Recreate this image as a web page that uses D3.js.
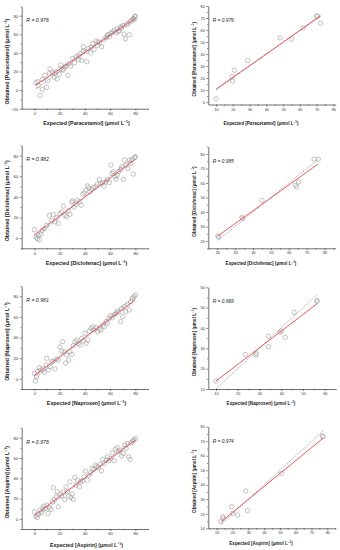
<!DOCTYPE html>
<html><head><meta charset="utf-8">
<script src="https://cdn.jsdelivr.net/npm/d3@7"></script>
<style>
html,body{margin:0;padding:0;background:#fff;}
svg{display:block;font-family:"Liberation Sans",Arial,sans-serif;}
</style></head><body>
<svg id="chart" width="340" height="550"></svg>
<script>
// ---------- DATA ----------
const drugNames = ["Paracetamol","Diclofenac","Naproxen","Aspirin"];
const rCalib = ["0.976","0.982","0.981","0.976"];
const rValid = ["0.979","0.985","0.969","0.974"];
const fitCalibSlope = [0.91, 0.92, 0.92, 0.93];
const fitCalibIntercept = [4.3, 3.0, 3.0, 3.3];
const fitValidSlope = [0.976, 0.885, 0.819, 0.892];
const fitValidIntercept = [1.0, 5.5, 5.7, 3.1];

const paraCalX = [1.3,2.6,4.5,6.3,6.3,8.4,9.8,11.9,12.4,14.3,15.6,17,18,19.8,20.3,21,23,24.3,26.4,27.7,28.8,30.4,31.7,33,34.9,36.2,37.5,38.8,41,41.5,42.8,44.6,46.2,47.3,48.8,49.9,51.5,53.3,55.2,56.8,57.8,59.4,60.5,62,63.1,64.7,65.7,67.3,68.4,70,71,72.1,73.1,74.2,75.2,76.3,77.4,78.4,79.5,80,3,10.5,16,22,25,35,39,45,50.5,58.5,66.5,69,79];
const paraCalY = [7.9,9,-5.7,0.7,11.5,16,3,18,23,18.6,14,20,12,17,23,27,21.5,25,16,28.7,25.8,34,29.4,35.8,33,39.4,32,46.6,41,30.5,44.8,40,50,43.7,53,48.4,51,46.6,54.5,56.6,58.8,57.3,61,62.4,64.5,61.6,66,63.8,68,69.5,60.2,55.2,70.3,71.7,59.5,73.8,75.3,77,78.9,79.6,5,10,18,22,26,37,42,46,52,60,63,66.5,76];
const paraValX = [10,19.7,19.9,20.9,28.9,48.2,55.1,62.1,70,70.6,72.4];
const paraValY = [2.8,21.3,17.5,26.6,34.6,53.5,52.4,61.8,71.5,71.7,65.6];

const dicloCalX = [0,1.3,2.4,3.2,4,5,6.3,7.7,9.8,11.9,13.7,15,16.4,17.7,19,20.3,21.6,23,24.3,25.6,26.9,28.2,29.6,30.4,31.4,33,34,35.6,37,38.3,39.6,40.9,42,43,44,45.4,46.7,48.3,49.9,51.5,52.5,54.1,55.2,56.8,57.8,59.4,60.5,61.5,62.6,63.9,64.7,65.7,66.8,68.4,69.4,70.5,71.3,72.6,73.9,75.2,76.3,77.4,78.4,79.5,80];
const dicloCalY = [8.1,1,-0.7,2.6,-1.6,3.6,7.5,9,12.4,22,17.2,23,15.6,19.8,14,23.7,25.4,31,22,20.5,26.3,23,35,36,30.2,32.8,36.7,35,31.9,42.6,43.9,46.5,50.7,49,44.9,47.2,49.1,49.8,52.4,57,53,53.7,50.4,54.6,57,53.7,70.9,62.8,64.4,59.5,57,61,64.4,66.7,69.3,57,75.8,70.9,67.6,75.8,72.5,76.4,62.1,78.4,79];
const dicloValX = [20.4,20.7,33.8,34.2,45,63.6,64.5,65.5,74.2,76.5];
const dicloValY = [23.6,22.7,36.4,35.5,48,58.4,57.3,60.7,76.4,76.4];

const naproCalX = [0,0.8,1.8,2.6,4,5,6.6,7.9,9.2,9.8,11.1,12.4,13.7,15,16.4,17.7,19,20.3,21.6,22.4,23.8,24.8,25.6,27.2,28.2,29.6,30.9,32.2,33.5,34.9,36.2,37.5,38.8,40.1,41,42.2,43.6,44.9,46.2,47.3,48.8,50.2,51.5,52.8,54.1,55.4,56.8,57.8,59.1,60.5,61.8,63.1,64.7,65.7,66.8,68.4,69.2,70,71.3,72.3,73.7,75.2,76.3,77.6,78.9,80];
const naproCalY = [5.2,-2.3,1.9,6.8,10.7,8.4,9.4,6.2,13.3,19.8,8.4,11.7,16.5,17.2,9.4,19.1,18.1,30.8,26.9,36,26.2,15.2,23,18.1,26.2,23.6,32.1,36,37.6,34.3,32.7,39.2,36.6,44,34.3,37.6,46.3,48.9,50.5,47.3,49.6,45.7,48.3,47.3,52.1,50.5,55.4,53.8,58.6,61.2,59.3,61.9,63.5,65.7,64.5,55.4,68.3,60.2,70,65.1,72.2,66.7,74.8,78,79.7,81.3];
const naproValX = [10,23.5,28.3,28.6,34.2,34.2,39.4,40.1,41.8,45.9,56.3,56.5];
const naproValY = [13.9,27,26.7,27.4,35.9,30.8,37.9,38.5,35.4,47.7,53,53.6];

const aspCalX = [0,1.3,2.4,3.2,4.5,5.5,6.6,7.7,8.7,9.8,10.8,11.9,13.2,14.3,15,15.8,17.2,18.2,19,20.3,21.6,23,24,25.1,26.1,27.2,28.2,29,30.1,30.9,32,33,34.3,35.6,36.7,38,39.3,40.4,42,43.3,44.6,45.7,47,48.3,49.4,50.7,52,53.1,54.1,55.4,56.8,57.8,59.1,60.5,61.8,63.1,64.2,65.5,66.5,67.9,69.2,70.5,71.6,72.6,73.7,74.7,75.8,76.8,77.9,78.9,80];
const aspCalY = [6.9,2.6,1.3,4.6,8.6,5.9,10.2,12.5,9.9,13.5,5.3,11.2,9.2,16.8,30.9,19.1,21.7,26.7,11.9,24.4,22.4,26.7,19.1,31.6,26.7,22.4,36.5,21.1,24.4,19.1,40.8,33.3,38.2,31.6,36.5,37.5,41.5,47.1,38.2,43.1,45.4,49.7,48.7,53,51.4,50.7,54,47.4,58.6,54.6,57.9,61.2,57.3,59.6,65.2,57.3,68.5,70.4,66.2,67.8,61.9,64.5,72.8,69.5,74.4,61.2,58.6,75.1,77,77.7,79.3];
const aspValX = [12.7,13.8,14.2,19.5,20.1,23.3,28.3,29.4,51.1,76.8,77.3];
const aspValY = [14.6,18,16.9,24.9,20.3,19.2,35.7,22.2,47.9,73.6,73.1];

const leftXTicks = [0,20,40,60,80];
const leftYTicksRow1 = [-20,0,20,40,60,80];
const leftYTicks = [0,20,40,60,80];
const rightXTicks1 = [10,20,30,40,50,60,70,80];
const rightYTicks1 = [0,10,20,30,40,50,60,70,80];
const rightXTicks2 = [20,30,40,50,60,70,80];
const rightYTicks2 = [20,30,40,50,60,70,80];
const rightXTicks3 = [10,20,30,40,50,60];
const rightYTicks3 = [10,20,30,40,50,60];
const rightXTicks4 = [10,20,30,40,50,60,70,80];
const rightYTicks4 = [10,20,30,40,50,60,70,80];

// ---------- LAYOUT ----------
const calX = [paraCalX,dicloCalX,naproCalX,aspCalX];
const calY = [paraCalY,dicloCalY,naproCalY,aspCalY];
const valX = [paraValX,dicloValX,naproValX,aspValX];
const valY = [paraValY,dicloValY,naproValY,aspValY];

const leftGeom = [
  {xd:[-10,90], yd:[-20,90], yr:[108.7,6.4], yt:leftYTicksRow1, xl:124.5},
  {xd:[-10,90], yd:[-10,90], yr:[248.3,145.4], yt:leftYTicks, xl:264.5},
  {xd:[-10,90], yd:[-10,90], yr:[389,286], yt:leftYTicks, xl:404.5},
  {xd:[-10,90], yd:[-10,90], yr:[529,427.6], yt:leftYTicks, xl:547}
];
const rightGeom = [
  {xd:[5.4,81.4], yd:[-2,80], yr:[104.5,6], xt:rightXTicks1, yt:rightYTicks1, xl:124.5},
  {xd:[15,86.2], yd:[15,85], yr:[248.3,146.7], xt:rightXTicks2, yt:rightYTicks2, xl:264.5},
  {xd:[6.5,65], yd:[10,60], yr:[389,287.3], xt:rightXTicks3, yt:rightYTicks3, xl:404.5},
  {xd:[4.7,85.3], yd:[10,80], yr:[528.3,426.7], xt:rightXTicks4, yt:rightYTicks4, xl:545}
];

const svg = d3.select("#chart");
const axisColor = "#333";

function drawPanel(opts){
  const g = svg.append("g");
  const x = d3.scaleLinear().domain(opts.xd).range(opts.xr);
  const y = d3.scaleLinear().domain(opts.yd).range(opts.yr);

  // minor ticks
  const xStep = opts.xt[1]-opts.xt[0], yStep = opts.yt[1]-opts.yt[0];
  const xMinor = d3.range(opts.xt[0]-xStep/2, opts.xd[1]+0.001, xStep/2).filter(v=>v>=opts.xd[0]&&v<=opts.xd[1]&&!opts.xt.includes(v));
  const yMinor = d3.range(opts.yt[0]-yStep/2, opts.yd[1]+0.001, yStep/2).filter(v=>v>=opts.yd[0]&&v<=opts.yd[1]&&!opts.yt.includes(v));

  const xa = g.append("g").attr("transform",`translate(0,${opts.yr[0]})`)
    .call(d3.axisBottom(x).tickValues(opts.xt).tickSize(2).tickPadding(1.5).tickSizeOuter(0));
  g.append("g").attr("transform",`translate(0,${opts.yr[0]})`)
    .call(d3.axisBottom(x).tickValues(xMinor).tickSize(1.2).tickFormat("").tickSizeOuter(0))
    .select(".domain").remove();
  const ya = g.append("g").attr("transform",`translate(${opts.xr[0]},0)`)
    .call(d3.axisLeft(y).tickValues(opts.yt).tickSize(2).tickPadding(1.5).tickSizeOuter(0));
  g.append("g").attr("transform",`translate(${opts.xr[0]},0)`)
    .call(d3.axisLeft(y).tickValues(yMinor).tickSize(1.2).tickFormat("").tickSizeOuter(0))
    .select(".domain").remove();
  g.selectAll(".domain").attr("stroke",axisColor).attr("stroke-width",0.7);
  g.selectAll(".tick line").attr("stroke",axisColor).attr("stroke-width",0.6);
  g.selectAll(".tick text").attr("fill","#333").attr("font-size",opts.tickFont).attr("font-family","Liberation Sans, Arial, sans-serif");

  // y = x dashed line
  const xs = opts.px, ys = opts.py;
  const x0 = d3.min(xs), x1 = d3.max(xs);
  g.append("line").attr("x1",x(x0)).attr("y1",y(x0)).attr("x2",x(x1)).attr("y2",y(x1))
    .attr("stroke","#777").attr("stroke-width",0.6).attr("stroke-dasharray","1.6,1.2");

  // points
  g.append("g").selectAll("circle").data(d3.range(xs.length)).join("circle")
    .attr("cx",i=>x(xs[i])).attr("cy",i=>y(ys[i])).attr("r",2.2)
    .attr("fill","none").attr("stroke","#9a9a9a").attr("stroke-width",0.6);

  // fit line
  g.append("line").attr("x1",x(x0)).attr("y1",y(opts.b + opts.m*x0))
    .attr("x2",x(x1)).attr("y2",y(opts.b + opts.m*x1))
    .attr("stroke","#e8474c").attr("stroke-width",0.9);

  // R text
  const rt = g.append("text").attr("x",opts.xr[0]+4.5).attr("y",opts.yr[1]+ (opts.rDy))
    .attr("font-size",opts.rFont).attr("font-style","italic").attr("fill","#222");
  rt.text("R = " + opts.r);

  // x label
  const xlab = g.append("text").attr("x",opts.xlx).attr("y",opts.xl)
    .attr("text-anchor","middle").attr("font-size",opts.labFont).attr("font-weight","bold").attr("fill","#222");
  xlab.append("tspan").text(`Expected [${opts.name}] (μmol L`);
  xlab.append("tspan").attr("dy",-1.8).attr("font-size",opts.labFont*0.65).text("−1");
  xlab.append("tspan").attr("dy",1.8).text(")");

  // y label
  const ylab = g.append("text").attr("transform",`translate(${opts.ylx},${opts.yly}) rotate(-90)`)
    .attr("text-anchor","middle").attr("font-size",opts.labFont).attr("font-weight","bold").attr("fill","#222");
  ylab.append("tspan").text(`Obtained [${opts.name}] (μmol L`);
  ylab.append("tspan").attr("dy",-1.8).attr("font-size",opts.labFont*0.65).text("−1");
  ylab.append("tspan").attr("dy",1.8).text(")");
}

for(let i=0;i<4;i++){
  const L = leftGeom[i];
  drawPanel({xd:L.xd, xr:[21.7,148], yd:L.yd, yr:L.yr, xt:leftXTicks, yt:L.yt,
    px:calX[i], py:calY[i], m:fitCalibSlope[i], b:fitCalibIntercept[i], r:rCalib[i],
    name:drugNames[i], xl:L.xl, xlx:86.5, ylx:8.5, yly:(L.yr[0]+L.yr[1])/2+4,
    tickFont:4.2, labFont:5.3, rFont:5.2, rDy:16});
  const R = rightGeom[i];
  drawPanel({xd:R.xd, xr:[208.3,335.7], yd:R.yd, yr:R.yr, xt:R.xt, yt:R.yt,
    px:valX[i], py:valY[i], m:fitValidSlope[i], b:fitValidIntercept[i], r:rValid[i],
    name:drugNames[i], xl:R.xl, xlx:261, ylx:196, yly:(R.yr[0]+R.yr[1])/2+4,
    tickFont:3.8, labFont:4.6, rFont:4.8, rDy:16});
}
</script>
</body></html>
